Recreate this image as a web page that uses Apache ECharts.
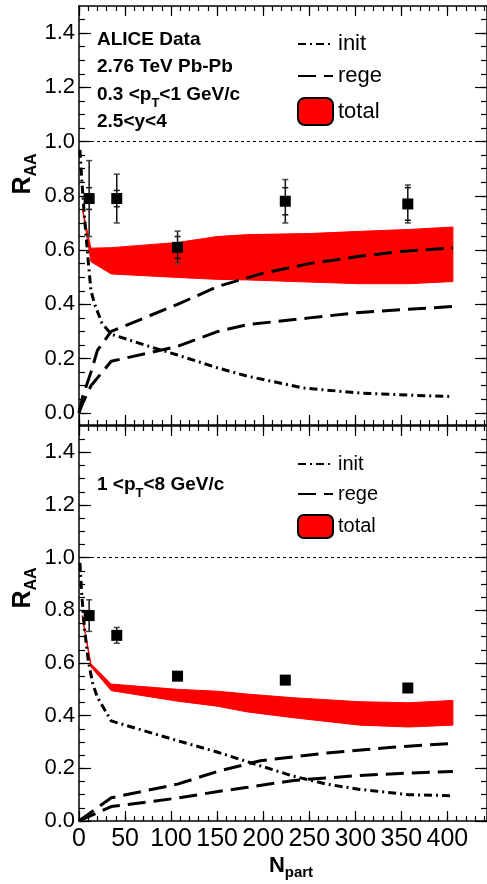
<!DOCTYPE html>
<html>
<head>
<meta charset="utf-8">
<script src="https://cdn.jsdelivr.net/npm/echarts@6/dist/echarts.min.js"></script>
<style>
  html, body { margin: 0; padding: 0; background: #fff; }
  #chart { width: 487px; height: 884px; }
</style>
</head>
<body>
<div id="chart"></div>
<script>
// ---- measured points (same Npart in both panels) ----
const npartData = [11, 41, 107, 224, 357];
const raaLowPt = [0.79, 0.79, 0.61, 0.78, 0.77];
const statLowPt = [0.14, 0.09, 0.06, 0.08, 0.07];
const systLowPt = [0.04, 0.03, 0.04, 0.05, 0.06];
const raaHighPt = [0.78, 0.705, 0.55, 0.535, 0.505];
const statHighPt = [0.06, 0.03, 0.015, 0.01, 0.015];
const systHighPt = [0, 0, 0, 0, 0];

// ---- model curves, 0.3 < pT < 1 GeV/c ----
const initLowN = [1, 3, 6, 10, 13, 17, 25, 35, 76, 107, 151, 183, 244, 305, 366, 406];
const initLowY = [0.97, 0.86, 0.72, 0.56, 0.45, 0.40, 0.33, 0.29, 0.245, 0.213, 0.165, 0.135, 0.091, 0.073, 0.064, 0.06];
const regeHiLowN = [0, 4, 13, 20, 35, 107, 151, 200, 250, 305, 350, 406];
const regeHiLowY = [0, 0.06, 0.15, 0.23, 0.30, 0.40, 0.466, 0.515, 0.55, 0.577, 0.595, 0.608];
const regeLoLowN = [0, 4, 13, 35, 107, 151, 183, 250, 305, 350, 406];
const regeLoLowY = [0, 0.035, 0.10, 0.19, 0.245, 0.30, 0.325, 0.35, 0.37, 0.38, 0.392];
const bandLowN = [4, 13, 35, 107, 150, 183, 250, 305, 358, 406];
const bandLowLo = [0.745, 0.557, 0.512, 0.499, 0.492, 0.49, 0.482, 0.476, 0.476, 0.484];
const bandLowHi = [0.75, 0.607, 0.609, 0.628, 0.65, 0.657, 0.661, 0.669, 0.676, 0.685];

// ---- model curves, 1 < pT < 8 GeV/c ----
const initHighN = [1, 3, 6, 10, 15, 20, 35, 107, 150, 183, 233, 269, 305, 358, 406];
const initHighY = [0.98, 0.86, 0.73, 0.61, 0.52, 0.47, 0.38, 0.305, 0.262, 0.225, 0.17, 0.14, 0.12, 0.10, 0.096];
const regeHiHighN = [0, 35, 107, 151, 197, 269, 340, 406];
const regeHiHighY = [0, 0.088, 0.14, 0.189, 0.229, 0.258, 0.28, 0.295];
const regeLoHighN = [0, 35, 107, 151, 183, 233, 305, 358, 406];
const regeLoHighY = [0, 0.055, 0.087, 0.112, 0.128, 0.154, 0.173, 0.182, 0.188];
const bandHighN = [3.5, 13, 35, 107, 150, 183, 233, 305, 358, 406];
const bandHighLo = [0.775, 0.585, 0.495, 0.455, 0.436, 0.414, 0.392, 0.364, 0.357, 0.364];
const bandHighHi = [0.78, 0.597, 0.52, 0.50, 0.493, 0.482, 0.468, 0.453, 0.449, 0.458];

// ---- ticks ----
const xTicks = [0, 50, 100, 150, 200, 250, 300, 350, 400];
const xMinorTicks = [];
for (let v = 0; v <= 440; v += 10) xMinorTicks.push(v);
const yTicks = [0, 0.2, 0.4, 0.6, 0.8, 1.0, 1.2, 1.4];
const yMinorTicks = [];
for (let i = 0; i <= 29; i++) yMinorTicks.push(+(i * 0.05).toFixed(2));

const FONT = '"Liberation Sans", Arial, Helvetica, sans-serif';
const X_MAX = 443;
const yMins = [-0.045, 0];

const chart = echarts.init(document.getElementById('chart'));

const zip = (a, b) => a.map((v, i) => [v, b[i]]);

// frame axes: major + minor ticks on every side
function makeXAxes(g) {
  const base = { gridIndex: g, type: 'value', min: 0, max: X_MAX, splitLine: { show: false } };
  const axes = [];
  ['bottom', 'top'].forEach(pos => {
    axes.push(Object.assign({}, base, {
      position: pos,
      axisLine: { show: true, onZero: false, lineStyle: { color: '#000', width: 1.5 } },
      axisTick: { show: true, inside: true, length: 10, customValues: xTicks, lineStyle: { color: '#000', width: 1.2 } },
      axisLabel: {
        show: pos === 'bottom' && g === 1, customValues: xTicks, margin: 6,
        fontSize: 25, color: '#000', fontFamily: FONT
      }
    }));
    axes.push(Object.assign({}, base, {
      position: pos,
      axisLine: { show: false, onZero: false },
      axisTick: { show: true, inside: true, length: 5, customValues: xMinorTicks, lineStyle: { color: '#000', width: 1.2 } },
      axisLabel: { show: false }
    }));
  });
  return axes;
}

function makeYAxes(g) {
  const base = { gridIndex: g, type: 'value', min: yMins[g], max: 1.5, splitLine: { show: false } };
  const minor = yMinorTicks.filter(v => v >= yMins[g]);
  const axes = [];
  ['left', 'right'].forEach(pos => {
    axes.push(Object.assign({}, base, {
      position: pos,
      axisLine: { show: true, onZero: false, lineStyle: { color: '#000', width: 1.5 } },
      axisTick: { show: true, inside: true, length: 12, customValues: yTicks, lineStyle: { color: '#000', width: 1.2 } },
      axisLabel: {
        show: pos === 'left', customValues: yTicks, margin: 4,
        fontSize: 22, color: '#000', fontFamily: FONT,
        formatter: v => v.toFixed(1)
      }
    }));
    axes.push(Object.assign({}, base, {
      position: pos,
      axisLine: { show: false, onZero: false },
      axisTick: { show: true, inside: true, length: 6, customValues: minor, lineStyle: { color: '#000', width: 1.2 } },
      axisLabel: { show: false }
    }));
  });
  return axes;
}

function bandSeries(g, N, lo, hi) {
  return {
    type: 'custom', name: 'total', xAxisIndex: 4 * g, yAxisIndex: 4 * g,
    data: N.map((n, i) => [n, lo[i], hi[i]]),
    encode: { x: 0, y: [1, 2] },
    silent: true, z: 1,
    itemStyle: { color: '#ff0000' },
    renderItem: (params, api) => {
      if (params.dataIndex !== 0) return null;
      const upper = N.map((n, i) => api.coord([n, hi[i]]));
      const lower = N.map((n, i) => api.coord([n, lo[i]])).reverse();
      return {
        type: 'polygon',
        shape: { points: upper.concat(lower) },
        style: { fill: '#ff0000', stroke: '#ff0000', lineWidth: 1 }
      };
    }
  };
}

function errorSeries(g, raa, stat, syst) {
  return {
    type: 'custom', xAxisIndex: 4 * g, yAxisIndex: 4 * g, silent: true, z: 4,
    data: npartData.map((n, i) => [n, raa[i], stat[i], syst[i]]),
    renderItem: (params, api) => {
      const x = api.value(0), y = api.value(1), st = api.value(2), sy = api.value(3);
      const top = api.coord([x, y + st]);
      const bot = api.coord([x, y - st]);
      const cap = (p, c) => ({
        type: 'line', shape: { x1: p[0] - 3, y1: p[1], x2: p[0] + 3, y2: p[1] },
        style: { stroke: c, lineWidth: 1.5 }
      });
      const children = [
        { type: 'line', shape: { x1: top[0], y1: top[1], x2: bot[0], y2: bot[1] }, style: { stroke: '#111', lineWidth: 1.5 } },
        cap(top, '#444'), cap(bot, '#444')
      ];
      if (sy > 0) {
        children.push(cap(api.coord([x, y + sy]), '#111'));
        children.push(cap(api.coord([x, y - sy]), '#111'));
      }
      return { type: 'group', children };
    }
  };
}

function lineSeries(g, name, data, dash) {
  return {
    type: 'line', name, xAxisIndex: 4 * g, yAxisIndex: 4 * g,
    data, symbol: 'none', silent: true, z: 3,
    lineStyle: { color: '#000', width: 3, type: dash },
    itemStyle: { color: '#000', opacity: 0 }
  };
}

const DASH_INIT = [8, 4, 2, 4];
const DASH_REGE = [18, 8];

function panelSeries(g, p) {
  const init = lineSeries(g, 'init', zip(p.initN, p.initY), DASH_INIT);
  init.markLine = {
    silent: true, symbol: ['none', 'none'], label: { show: false },
    lineStyle: { color: '#000', type: [3, 3], width: 1, opacity: 1 },
    data: [{ yAxis: 1 }]
  };
  return [
    bandSeries(g, p.bandN, p.bandLo, p.bandHi),
    init,
    lineSeries(g, 'rege', zip(p.regeHiN, p.regeHiY), DASH_REGE),
    lineSeries(g, 'rege', zip(p.regeLoN, p.regeLoY), DASH_REGE),
    errorSeries(g, p.raa, p.stat, p.syst),
    {
      type: 'scatter', xAxisIndex: 4 * g, yAxisIndex: 4 * g, silent: true, z: 10,
      data: zip(npartData, p.raa), symbol: 'rect', symbolSize: 11,
      itemStyle: { color: '#000', opacity: 1 }
    }
  ];
}

const series = [].concat(
  panelSeries(0, {
    initN: initLowN, initY: initLowY,
    regeHiN: regeHiLowN, regeHiY: regeHiLowY,
    regeLoN: regeLoLowN, regeLoY: regeLoLowY,
    bandN: bandLowN, bandLo: bandLowLo, bandHi: bandLowHi,
    raa: raaLowPt, stat: statLowPt, syst: systLowPt
  }),
  panelSeries(1, {
    initN: initHighN, initY: initHighY,
    regeHiN: regeHiHighN, regeHiY: regeHiHighY,
    regeLoN: regeLoHighN, regeLoY: regeLoHighY,
    bandN: bandHighN, bandLo: bandHighLo, bandHi: bandHighHi,
    raa: raaHighPt, stat: statHighPt, syst: systHighPt
  })
);

function legendFor(top, itemHeight, fontSize) {
  const lineItem = name => ({ name, itemStyle: { opacity: 0 } });
  return {
    orient: 'vertical', left: 292, top, itemWidth: 35, itemHeight, itemGap: 10,
    selectedMode: false,
    textStyle: { fontSize, color: '#000', fontFamily: FONT },
    data: [
      lineItem('init'),
      lineItem('rege'),
      { name: 'total', icon: 'roundRect', itemStyle: { color: '#ff0000', borderColor: '#000', borderWidth: 2 } }
    ]
  };
}

const boldTxt = { fontSize: 19, fontWeight: 'bold', fontFamily: FONT, fill: '#000', lineHeight: 30, verticalAlign: 'middle' };
const subTxt = { fontSize: 13, fontWeight: 'bold', fontFamily: FONT, fill: '#000', lineHeight: 12, verticalAlign: 'bottom' };

function label(x, y, text) {
  return {
    type: 'text', x, y, silent: true,
    style: { text, align: 'left', verticalAlign: 'middle', rich: { a: boldTxt, s: subTxt } }
  };
}

function raaTitle(y) {
  return {
    type: 'text', x: 23, y, rotation: Math.PI / 2, silent: true,
    style: {
      text: '{r|R}{s|AA}', align: 'center', verticalAlign: 'middle',
      rich: {
        r: { fontSize: 25, fontWeight: 'bold', fontFamily: FONT, fill: '#000', lineHeight: 34, verticalAlign: 'middle' },
        s: { fontSize: 16, fontWeight: 'bold', fontFamily: FONT, fill: '#000', lineHeight: 14, verticalAlign: 'bottom' }
      }
    }
  };
}

const option = {
  animation: false,
  backgroundColor: '#fff',
  grid: [
    { left: 79, top: 6, width: 414, height: 419 },
    { left: 79, top: 426, width: 414, height: 395 }
  ],
  xAxis: makeXAxes(0).concat(makeXAxes(1)),
  yAxis: makeYAxes(0).concat(makeYAxes(1)),
  legend: [legendFor(28, 27, 22), legendFor(449, 23, 20)],
  series,
  graphic: [
    label(97, 40, '{a|ALICE Data}'),
    label(97, 67, '{a|2.76 TeV Pb-Pb}'),
    label(97, 95, '{a|0.3 <p}{s|T}{a|<1 GeV/c}'),
    label(97, 122, '{a|2.5<y<4}'),
    label(97, 485, '{a|1 <p}{s|T}{a|<8 GeV/c}'),
    raaTitle(174),
    raaTitle(588),
    {
      type: 'text', x: 291, y: 866, silent: true,
      style: {
        text: '{n|N}{s|part}', align: 'center', verticalAlign: 'middle',
        rich: {
          n: { fontSize: 22, fontWeight: 'bold', fontFamily: FONT, fill: '#000', lineHeight: 28, verticalAlign: 'middle' },
          s: { fontSize: 15, fontWeight: 'bold', fontFamily: FONT, fill: '#000', lineHeight: 10, verticalAlign: 'bottom' }
        }
      }
    }
  ]
};

chart.setOption(option);
</script>
</body>
</html>
